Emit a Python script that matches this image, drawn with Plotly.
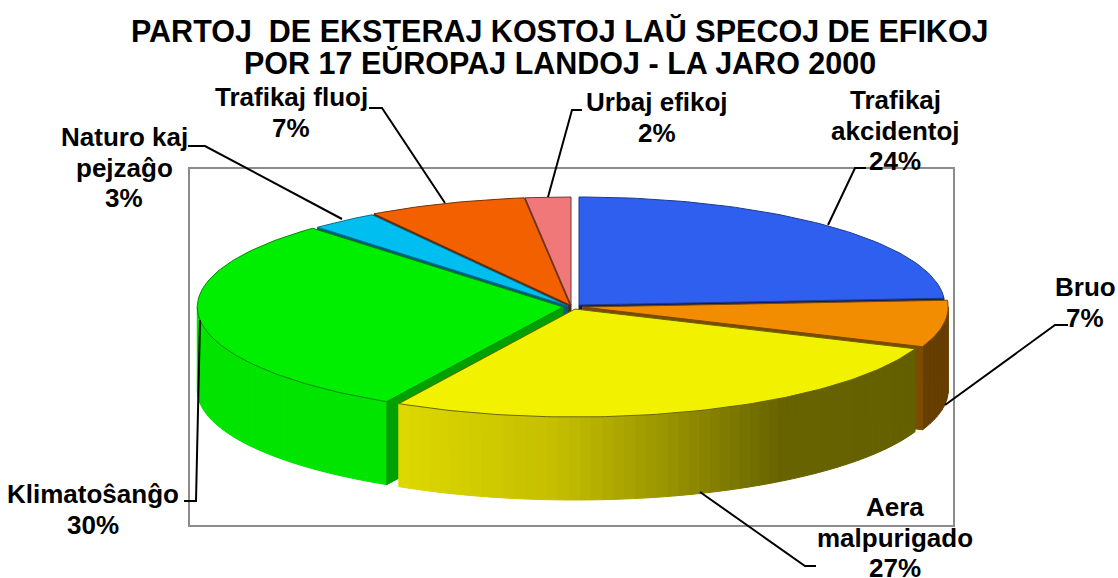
import math
import plotly.graph_objects as go

TITLE_LINES = ["PARTOJ\u00a0\u00a0DE EKSTERAJ KOSTOJ LAŬ SPECOJ DE EFIKOJ", "POR 17 EŬROPAJ LANDOJ - LA JARO 2000"]
CATEGORIES = ["Trafikaj akcidentoj", "Bruo", "Aera malpurigado", "Klimatoŝanĝo", "Naturo kaj pejzaĝo", "Trafikaj fluoj", "Urbaj efikoj"]
VALUES = [24, 7, 27, 30, 3, 7, 2]
COLORS = ["#2E5FEE", "#F28C00", "#F2F200", "#00EE00", "#00BFF0", "#F26000", "#F07878"]
WALLS = ["#101C60", "#7A4C00", "#666000", "#00A000", "#005A78", "#5A2400", "#402830"]
EDGES = ["#1E3A90", "#7A4800", "#6A6600", "#008A00", "#007090", "#7A3000", "#6A3A3A"]
APEX = [(579, 305), (582.5, 307), (575, 309), (563, 307), (568, 306), (570, 305), (571, 305)]
LABELS = [["Trafikaj", "akcidentoj", "24%"], ["Bruo", "7%"], ["Aera", "malpurigado", "27%"],
          ["Klimatoŝanĝo", "30%"], ["Naturo kaj", "pejzaĝo", "3%"], ["Trafikaj fluoj", "7%"], ["Urbaj efikoj", "2%"]]
LABEL_POS = [(895, 100), (1085, 287), (895, 507), (93, 494), (124, 137), (291, 97), (657, 102)]
LEADERS = [[(828, 225), (855, 168), (866, 168)], [(945, 405), (1055, 325), (1068, 325)],
           [(700, 492), (805, 566), (816, 566)], [(200, 320), (196, 501), (184, 501)],
           [(342, 219), (205, 146), (188, 146)], [(445, 203), (382, 108), (369, 108)],
           [(548, 197), (572, 110), (582, 110)]]

RX, RY, DEPTH = 365.7, 108, 83
FONT = "Liberation Sans, Arial, sans-serif"

# slice angles, clockwise from the top
bounds, acc = [], 0
for v in VALUES:
    bounds.append((acc / sum(VALUES) * 2 * math.pi, (acc + v) / sum(VALUES) * 2 * math.pi))
    acc += v

def pt(i, a, drop=0):
    cx, cy = APEX[i]
    return cx + RX * math.sin(a), cy - RY * math.cos(a) + drop

def arc(i, a0, a1, drop=0, n=None):
    n = n or max(2, int(abs(a1 - a0) / 0.02))
    return [pt(i, a0 + (a1 - a0) * k / n, drop) for k in range(n + 1)]

fig = go.Figure()

def poly(points, fill, line=None, width=1, name=""):
    xs = [p[0] for p in points] + [points[0][0]]
    ys = [p[1] for p in points] + [points[0][1]]
    fig.add_trace(go.Scatter(x=xs, y=ys, mode="lines", fill="toself", fillcolor=fill,
                             line=dict(color=line or fill, width=width), name=name,
                             showlegend=False, hoverinfo="skip"))

def top(i):
    poly([APEX[i]] + arc(i, *bounds[i]), COLORS[i], EDGES[i], 1, CATEGORIES[i])

def wall(i, a):
    cx, cy = APEX[i]
    poly([(cx, cy), pt(i, a), pt(i, a, DEPTH), (cx, cy + DEPTH)], WALLS[i], WALLS[i], 1, CATEGORIES[i])

def lerp(c0, c1, t):
    return "rgb(%d,%d,%d)" % tuple(c0[k] + (c1[k] - c0[k]) * t for k in range(3))

def side(i, shade):
    a0 = max(bounds[i][0], math.pi / 2)
    a1 = min(bounds[i][1], 3 * math.pi / 2)
    n = max(2, int((a1 - a0) / 0.03))
    for k in range(n):
        s0 = a0 + (a1 - a0) * k / n
        s1 = a0 + (a1 - a0) * (k + 1) / n
        x = pt(i, (s0 + s1) / 2)[0]
        pts = arc(i, s0, s1, 0, 3) + arc(i, s1, s0, DEPTH, 3)
        poly(pts, shade(x), None, 1, CATEGORIES[i])

def yellow_shade(x):
    stops = [(400, (222, 217, 0)), (560, (196, 190, 0)), (650, (160, 155, 0)), (780, (104, 100, 0)), (930, (100, 96, 0))]
    for (x0, c0), (x1, c1) in zip(stops, stops[1:]):
        if x <= x1:
            return lerp(c0, c1, max(0, (x - x0) / (x1 - x0)))
    return lerp(stops[-1][1], stops[-1][1], 0)

# back slices
wall(0, bounds[0][1])
top(0)
for i in (6, 5, 4):
    wall(i, bounds[i][0])
    top(i)
# green
side(3, lambda x: "rgb(0,228,0)")
wall(3, bounds[3][0])
top(3)
# orange
side(1, lambda x: "#663E00")
wall(1, bounds[1][1])
top(1)
# yellow
side(2, yellow_shade)
top(2)

# leaders
for pts in LEADERS:
    fig.add_trace(go.Scatter(x=[p[0] for p in pts], y=[p[1] for p in pts], mode="lines",
                             line=dict(color="black", width=2), showlegend=False, hoverinfo="skip"))

ann = []
def text(x, y, s, size):
    ann.append(dict(x=x, y=y, xref="x", yref="y", text="<b>%s</b>" % s, showarrow=False,
                    xanchor="center", yanchor="middle",
                    font=dict(family=FONT, size=size, color="black")))

for k, line in enumerate(TITLE_LINES):
    text(560, 31 + 32 * k, line, 30.5)
for lines, (x, y) in zip(LABELS, LABEL_POS):
    for k, line in enumerate(lines):
        text(x, y + 30.5 * k, line, 26)

fig.update_layout(
    width=1118, height=578, margin=dict(l=0, r=0, t=0, b=0),
    paper_bgcolor="white", plot_bgcolor="white", showlegend=False, annotations=ann,
    xaxis=dict(range=[0, 1118], visible=False, fixedrange=True),
    yaxis=dict(range=[578, 0], visible=False, fixedrange=True),
    shapes=[dict(type="rect", x0=189, y0=168, x1=954, y1=526, xref="x", yref="y", layer="below",
                 line=dict(color="#8C8C8C", width=2), fillcolor="white")],
)
fig.write_html("out.html", config=dict(displayModeBar=False),
               post_script="document.body.style.margin='0';document.documentElement.style.overflow='hidden';")
